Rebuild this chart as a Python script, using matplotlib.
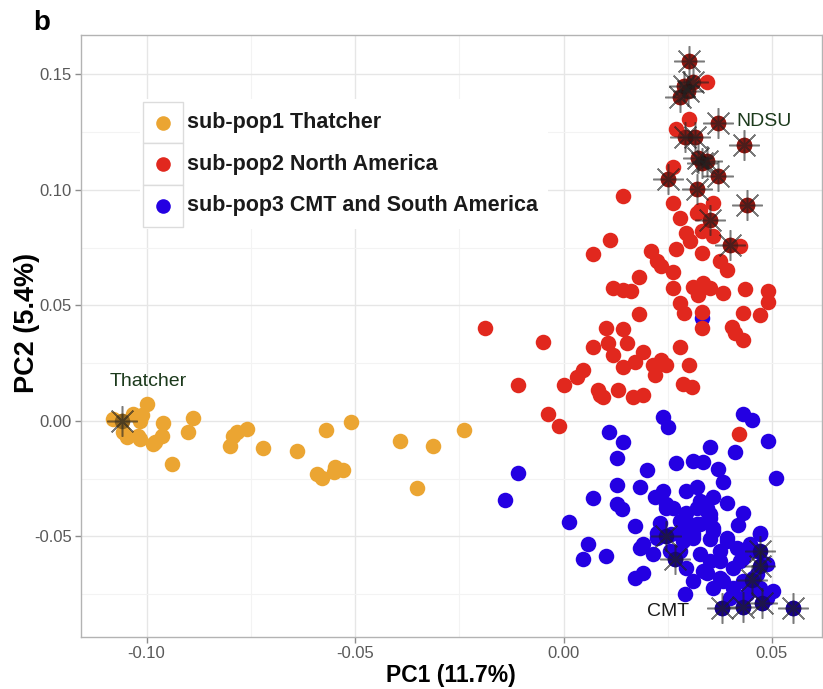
import matplotlib
matplotlib.use("Agg")
import matplotlib.pyplot as plt
from matplotlib.lines import Line2D
from matplotlib.patches import Rectangle

# ---- PCA scores per sub-population ----
pop1_pc1 = [-0.1058, -0.1080, -0.1048, -0.1056, -0.1016, -0.0998, -0.0960, -0.0984,
            -0.1016, -0.1032, -0.1012, -0.0964, -0.0980, -0.1020, -0.0888, -0.0900,
            -0.0938, -0.0800, -0.0792, -0.0784, -0.0760, -0.0720, -0.0640, -0.0570,
            -0.0510, -0.0592, -0.0580, -0.0548, -0.0528, -0.0550, -0.0392, -0.0312,
            -0.0239, -0.0351]
pop1_pc2 = [0.0000, 0.0010, -0.0070, -0.0049, -0.0077, 0.0072, -0.0010, -0.0099,
            0.0002, 0.0031, 0.0024, -0.0063, -0.0092, -0.0063, 0.0014, -0.0049,
            -0.0186, -0.0107, -0.0063, -0.0049, -0.0034, -0.0118, -0.0128, -0.0038,
            -0.0005, -0.0230, -0.0247, -0.0201, -0.0212, -0.0223, -0.0088, -0.0107,
            -0.0038, -0.0290]

pop2_pc1 = [0.0302, 0.0311, 0.0289, 0.0279, 0.0299, 0.0343, 0.0302, 0.0271, 0.0371,
            0.0291, 0.0315, 0.0433, 0.0323, 0.0343, 0.0331, 0.0262, 0.0251, 0.0371,
            0.0319, 0.0439, 0.0142, 0.0262, 0.0279, 0.0327, 0.0359, 0.0351, 0.0319,
            0.0295, 0.0331, 0.0359, 0.0399, 0.0423, 0.0303, 0.0271, 0.0331, 0.0112,
            0.0071, 0.0211, 0.0224, 0.0235, 0.0263, 0.0375, 0.0391, 0.0182, 0.0119,
            0.0143, 0.0163, 0.0262, 0.0311, 0.0335, 0.0351, 0.0323, 0.0382, 0.0435,
            0.0491, 0.0491, 0.0279, 0.0289, 0.0331, 0.0331, 0.0431, 0.0471, 0.0403,
            0.0411, 0.0431, 0.0182, -0.0188, -0.0050, 0.0102, 0.0142, 0.0071, 0.0107,
            0.0152, 0.0119, 0.0279, 0.0191, 0.0235, 0.0215, 0.0247, 0.0143, 0.0171,
            0.0302, 0.0047, 0.0032, 0.0000, -0.0108, 0.0083, 0.0131, 0.0219, 0.0287,
            0.0307, 0.0167, 0.0191, 0.0095, -0.0036, -0.0010, 0.0088, 0.0422]
pop2_pc2 = [0.1557, 0.1466, 0.1451, 0.1401, 0.1430, 0.1466, 0.1307, 0.1263, 0.1292,
            0.1231, 0.1231, 0.1193, 0.1140, 0.1125, 0.1118, 0.1101, 0.1046, 0.1060,
            0.1005, 0.0937, 0.0976, 0.0944, 0.0879, 0.0915, 0.0944, 0.0872, 0.0901,
            0.0814, 0.0821, 0.0799, 0.0763, 0.0756, 0.0777, 0.0744, 0.0727, 0.0785,
            0.0724, 0.0734, 0.0691, 0.0669, 0.0647, 0.0691, 0.0654, 0.0625, 0.0575,
            0.0567, 0.0564, 0.0575, 0.0579, 0.0597, 0.0575, 0.0546, 0.0553, 0.0570,
            0.0564, 0.0517, 0.0510, 0.0466, 0.0473, 0.0401, 0.0466, 0.0459, 0.0408,
            0.0379, 0.0350, 0.0463, 0.0401, 0.0343, 0.0404, 0.0397, 0.0321, 0.0336,
            0.0336, 0.0285, 0.0321, 0.0299, 0.0263, 0.0241, 0.0241, 0.0234, 0.0256,
            0.0241, 0.0220, 0.0190, 0.0154, 0.0154, 0.0133, 0.0136, 0.0198, 0.0162,
            0.0147, 0.0104, 0.0111, 0.0104, 0.0031, -0.0020, 0.0111, -0.0056]

pop3_pc1 = [0.0239, 0.0251, 0.0431, 0.0451, 0.0110, 0.0143, 0.0129, 0.0491, 0.0351,
            0.0411, 0.0510, 0.0270, 0.0311, 0.0335, 0.0371, 0.0382, 0.0201, -0.0108,
            -0.0140, 0.0129, 0.0183, 0.0238, 0.0319, 0.0071, 0.0129, 0.0140, 0.0219,
            0.0391, 0.0012, 0.0171, 0.0231, 0.0431, 0.0419, 0.0263, 0.0295, 0.0327,
            0.0351, 0.0319, 0.0287, 0.0359, 0.0259, 0.0311, 0.0351, 0.0391, 0.0224,
            0.0191, 0.0279, 0.0247, 0.0267, 0.0059, 0.0047, 0.0102, 0.0171, 0.0191,
            0.0183, 0.0215, 0.0295, 0.0311, 0.0291, 0.0343, 0.0375, 0.0359, 0.0407,
            0.0431, 0.0407, 0.0447, 0.0471, 0.0463, 0.0479, 0.0455, 0.0471, 0.0503,
            0.0487, 0.0379, 0.0431, 0.0475, 0.0551, 0.0439, 0.0399, 0.0431, 0.0415,
            0.0375, 0.0247, 0.0295, 0.0343, 0.0359, 0.0279, 0.0247, 0.0319, 0.0343,
            0.0295, 0.0327, 0.0351, 0.0359, 0.0311, 0.0287, 0.0224, 0.0255, 0.0327,
            0.0351, 0.0375, 0.0391, 0.0335, 0.0383, 0.0423, 0.0439, 0.0471, 0.0487,
            0.0463, 0.0447, 0.0471, 0.0431, 0.0331]
pop3_pc2 = [0.0017, -0.0027, 0.0031, 0.0005, -0.0049, -0.0092, -0.0160, -0.0085, -0.0114,
            -0.0136, -0.0247, -0.0183, -0.0172, -0.0179, -0.0208, -0.0266, -0.0212, -0.0227,
            -0.0343, -0.0276, -0.0285, -0.0302, -0.0288, -0.0334, -0.0360, -0.0382, -0.0331,
            -0.0353, -0.0436, -0.0454, -0.0440, -0.0397, -0.0450, -0.0375, -0.0397, -0.0346,
            -0.0404, -0.0447, -0.0462, -0.0462, -0.0491, -0.0505, -0.0512, -0.0505, -0.0505,
            -0.0534, -0.0563, -0.0498, -0.0599, -0.0534, -0.0599, -0.0585, -0.0679, -0.0657,
            -0.0549, -0.0577, -0.0636, -0.0693, -0.0751, -0.0657, -0.0679, -0.0723, -0.0636,
            -0.0693, -0.0723, -0.0534, -0.0483, -0.0563, -0.0614, -0.0679, -0.0723, -0.0737,
            -0.0766, -0.0810, -0.0805, -0.0788, -0.0810, -0.0751, -0.0766, -0.0592, -0.0549,
            -0.0607, -0.0375, -0.0302, -0.0375, -0.0331, -0.0433, -0.0360, -0.0375, -0.0389,
            -0.0433, -0.0447, -0.0418, -0.0476, -0.0491, -0.0520, -0.0483, -0.0563, -0.0577,
            -0.0607, -0.0563, -0.0520, -0.0650, -0.0693, -0.0607, -0.0563, -0.0491, -0.0621,
            -0.0664, -0.0708, -0.0737, -0.0766, 0.0446]

# ---- highlighted reference lines (asterisks) ----
marked_pc1 = [-0.1058,
              0.0302, 0.0311, 0.0289, 0.0279, 0.0299, 0.0371, 0.0291, 0.0315, 0.0433,
              0.0323, 0.0343, 0.0331, 0.0251, 0.0371, 0.0319, 0.0439, 0.0351, 0.0399,
              0.0247, 0.0267, 0.0471, 0.0471, 0.0451, 0.0379, 0.0431, 0.0475, 0.0551]
marked_pc2 = [0.0000,
              0.1557, 0.1466, 0.1451, 0.1401, 0.1430, 0.1292, 0.1231, 0.1231, 0.1193,
              0.1140, 0.1125, 0.1118, 0.1046, 0.1060, 0.1005, 0.0937, 0.0872, 0.0763,
              -0.0498, -0.0599, -0.0563, -0.0630, -0.0690, -0.0810, -0.0805, -0.0788, -0.0810]
marked_pop = [1] + [2] * 18 + [3] * 9

# ---- annotations ----
label_text = ["Thatcher", "NDSU", "CMT"]
label_pc1 = [-0.0996, 0.0414, 0.0200]
label_pc2 = [0.0173, 0.1296, -0.0826]
label_ha = ["center", "left", "left"]
label_color = ["#1c3a1c", "#1c3a1c", "#1a1a1a"]

pop_names = ["sub-pop1 Thatcher", "sub-pop2 North America", "sub-pop3 CMT and South America"]
pop_colors = {1: "#EBA532", 2: "#E1281E", 3: "#2400E2"}

x_ticks = [-0.10, -0.05, 0.00, 0.05]
y_ticks = [-0.05, 0.00, 0.05, 0.10, 0.15]
x_minor = [-0.075, -0.025, 0.025]
y_minor = [-0.075, -0.025, 0.025, 0.075, 0.125]

FONT = ["Liberation Sans", "DejaVu Sans"]
plt.rcParams["font.family"] = FONT

W, H = 823, 689
fig = plt.figure(figsize=(W / 100, H / 100), dpi=100)


def fx(x):
    return x / W


def fy(y):
    return 1 - y / H


AX_L, AX_R, AX_T, AX_B = 80.7, 822.0, 35.0, 636.7
ax = fig.add_axes([fx(AX_L), fy(AX_B), (AX_R - AX_L) / W, (AX_B - AX_T) / H])

# ticks and grid (limits are fixed afterwards so tick setting cannot widen them)
ax.set_xticks(x_ticks)
ax.set_yticks(y_ticks)
ax.set_xticks(x_minor, minor=True)
ax.set_yticks(y_minor, minor=True)
ax.set_xlim(-0.1158, 0.0620)
ax.set_ylim(-0.0934, 0.1671)
ax.grid(True, which="major", color="#e6e6e6", lw=1.0)
ax.grid(True, which="minor", color="#f3f3f3", lw=0.8)
ax.set_axisbelow(True)
ax.tick_params(which="minor", length=0)
ax.tick_params(which="major", length=4, width=1, color="#8c8c8c",
               labelsize=12, labelcolor="#595959", pad=2.5)
ax.set_xticklabels(["%.2f" % v for v in x_ticks])
ax.set_yticklabels(["%.2f" % v for v in y_ticks])
for s in ax.spines.values():
    s.set_color("#b3b3b3")
    s.set_linewidth(1.0)

ax.set_xlabel("PC1 (11.7%)", fontsize=16.5, fontweight="bold")
ax.xaxis.set_label_coords((451 - AX_L) / (AX_R - AX_L), (AX_B - 675.5) / (AX_B - AX_T))
ax.set_ylabel("PC2 (5.4%)", fontsize=19.5, fontweight="bold")
ax.yaxis.set_label_coords((26.5 - AX_L) / (AX_R - AX_L), (AX_B - 323) / (AX_B - AX_T))
ax.xaxis.label.set_va("center")
ax.yaxis.label.set_va("center")

dot = 125
ax.scatter(pop3_pc1, pop3_pc2, s=dot, color=pop_colors[3], lw=0, zorder=3)
ax.scatter(pop2_pc1, pop2_pc2, s=dot, color=pop_colors[2], lw=0, zorder=4)
ax.scatter(pop1_pc1, pop1_pc2, s=dot, color=pop_colors[1], lw=0, zorder=4)

# asterisk-marked lines: darkened dot plus eight-spoke star
for xv, yv, p in zip(marked_pc1, marked_pc2, marked_pop):
    ax.scatter([xv], [yv], s=dot, color=pop_colors[p], lw=0, zorder=5)
    ax.scatter([xv], [yv], s=dot, color="black", alpha=0.38, lw=0, zorder=6)
ax.plot(marked_pc1, marked_pc2, ls="none", marker=(8, 2, 0), markersize=22,
        markeredgewidth=1.1, color="#222222", alpha=0.6, zorder=7)

for t, xv, yv, ha, c in zip(label_text, label_pc1, label_pc2, label_ha, label_color):
    ax.text(xv, yv, t, ha=ha, va="center", fontsize=14, color=c, zorder=8)

# legend drawn in figure pixels
fig.add_artist(Rectangle((fx(140), fy(229)), (548 - 140) / W, (229 - 99) / H,
                         transform=fig.transFigure, facecolor="white", edgecolor="none",
                         zorder=2))
row_top = [101.7, 143.3, 185.0]
row_h = 41.7
for i, name in enumerate(pop_names):
    y0 = row_top[i]
    fig.add_artist(Rectangle((fx(142.7), fy(y0 + row_h)), 40.6 / W, row_h / H,
                             transform=fig.transFigure, facecolor="white",
                             edgecolor="#dcdcdc", lw=1.0, zorder=3))
    yc = y0 + row_h / 2
    fig.add_artist(Line2D([fx(163)], [fy(yc)], marker="o", markersize=10.5, ls="none",
                          markerfacecolor=pop_colors[i + 1], markeredgewidth=0,
                          transform=fig.transFigure, zorder=4))
    fig.text(fx(187), fy(yc), name, ha="left", va="center", fontsize=15.5,
             fontweight="bold", color="#1a1a1a", zorder=4)

fig.text(fx(33), fy(30), "b", ha="left", va="baseline", fontsize=20, fontweight="bold")

fig.savefig("out.png", dpi=100)
